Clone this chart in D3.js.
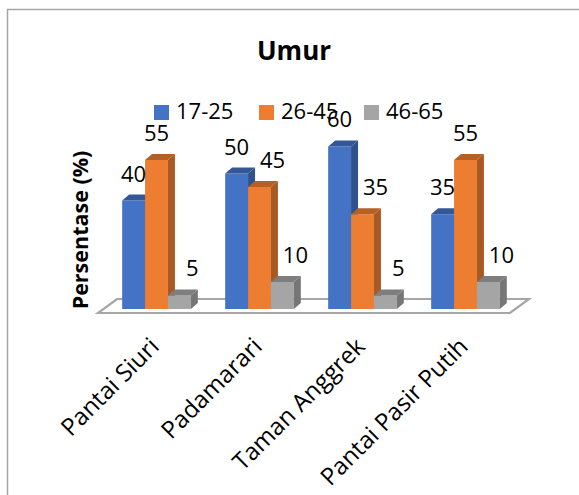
<!DOCTYPE html>
<html>
<head>
<meta charset="utf-8">
<script src="https://cdn.jsdelivr.net/npm/d3@7"></script>
<style>
  html, body { margin: 0; padding: 0; background: #fff; }
  svg { display: block; }
  text { font-family: "Open Sans", "Noto Sans", sans-serif; fill: #000; }
</style>
</head>
<body>
<div id="chart"></div>
<script>
// Respondent age groups per tourist site (%)
const categories = ["Pantai Siuri", "Padamarari", "Taman Anggrek", "Pantai Pasir Putih"];
const seriesNames = ["17-25", "26-45", "46-65"];
const age17_25 = [40, 50, 60, 35];
const age26_45 = [55, 45, 35, 55];
const age46_65 = [5, 10, 5, 10];
const seriesValues = [age17_25, age26_45, age46_65];
const seriesColors = ["#4472C4", "#ED7D31", "#A5A5A5"];
const chartTitle = "Umur";
const yTitle = "Persentase (%)";

const W = 579, H = 495;
const svg = d3.select("#chart").append("svg")
  .attr("width", W).attr("height", H);

// outer chart frame (only left and top edges fall inside the view)
svg.append("rect")
  .attr("x", 7.5).attr("y", 9.5)
  .attr("width", 640).attr("height", 640)
  .attr("fill", "none").attr("stroke", "#a6a6a6").attr("stroke-width", 1.5);

// title
svg.append("text")
  .attr("x", 294).attr("y", 60)
  .attr("text-anchor", "middle")
  .attr("font-size", 26).attr("font-weight", 700)
  .text(chartTitle);

// legend
const legend = svg.append("g").attr("transform", "translate(154,105)");
const legendItem = legend.selectAll("g").data(seriesNames).join("g")
  .attr("transform", (d, i) => `translate(${i * 105},0)`);
legendItem.append("rect")
  .attr("width", 15).attr("height", 15)
  .attr("fill", (d, i) => seriesColors[i]);
legendItem.append("text")
  .attr("x", 22).attr("y", 14)
  .attr("font-size", 22)
  .text(d => d);

// floor (front edge / back edge) of the 3-D plot area
const floorFront = { x0: 98, x1: 510, y: 313 };
const floorDepth = { dx: 19, dy: -14 };
// bars sit slightly behind the front edge of the floor
const barPlane = { dx: 7, dy: -4 };
// depth of each column
const depth = { dx: 7, dy: -6 };

svg.append("path")
  .attr("d", `M${floorFront.x0},${floorFront.y}
              L${floorFront.x1},${floorFront.y}
              L${floorFront.x1 + floorDepth.dx},${floorFront.y + floorDepth.dy}
              L${floorFront.x0 + floorDepth.dx},${floorFront.y + floorDepth.dy}Z`)
  .attr("fill", "#fff").attr("stroke", "#a6a6a6").attr("stroke-width", 2.2)
  .attr("stroke-linejoin", "miter");

const baseY = floorFront.y + barPlane.dy;
const x = d3.scaleBand()
  .domain(categories)
  .range([floorFront.x0 + barPlane.dx, floorFront.x1 + barPlane.dx])
  .paddingInner(1 / 3)
  .paddingOuter(1 / 6);
const xs = d3.scaleBand()
  .domain(seriesNames)
  .range([0, x.bandwidth()]);
const y = d3.scaleLinear().domain([0, 70]).range([baseY, baseY - 70 * 2.71]);

// y-axis title
svg.append("text")
  .attr("transform", `translate(88,230) rotate(-90)`)
  .attr("text-anchor", "middle")
  .attr("font-size", 21.5).attr("font-weight", 700)
  .text(yTitle);

// flatten to bar records
const bars = [];
categories.forEach((c, ci) => {
  seriesNames.forEach((s, si) => {
    bars.push({ cat: c, ci, series: s, si, value: seriesValues[si][ci] });
  });
});

const gBars = svg.append("g");
bars.forEach(b => {
  const x0 = x(b.cat) + xs(b.series);
  const w = xs.bandwidth();
  const yTop = y(b.value), yBot = y(0);
  const base = d3.color(seriesColors[b.si]);
  const g = gBars.append("g");
  // front face
  g.append("path")
    .attr("d", `M${x0},${yBot}L${x0 + w},${yBot}L${x0 + w},${yTop}L${x0},${yTop}Z`)
    .attr("fill", base.formatHex());
  // right side face
  g.append("path")
    .attr("d", `M${x0 + w},${yBot}L${x0 + w + depth.dx},${yBot + depth.dy}
                L${x0 + w + depth.dx},${yTop + depth.dy}L${x0 + w},${yTop}Z`)
    .attr("fill", base.darker(0.95).formatHex());
  // top face
  g.append("path")
    .attr("d", `M${x0},${yTop}L${x0 + w},${yTop}L${x0 + w + depth.dx},${yTop + depth.dy}
                L${x0 + depth.dx},${yTop + depth.dy}Z`)
    .attr("fill", base.darker(0.75).formatHex());
});

// value labels; a label moves right when the bar to its left is taller
const gLabels = svg.append("g");
bars.forEach(b => {
  const cx = x(b.cat) + xs(b.series) + xs.bandwidth() / 2;
  const prev = b.si > 0 ? seriesValues[b.si - 1][b.ci] : -Infinity;
  const nudge = b.value < prev ? 13 : 0;
  gLabels.append("text")
    .attr("x", cx + nudge)
    .attr("y", y(b.value) - 19)
    .attr("text-anchor", "middle")
    .attr("font-size", 22)
    .text(b.value);
});

// category labels, rotated 45 degrees
svg.append("g").selectAll("text").data(categories).join("text")
  .attr("transform", d => `translate(${x(d) + x.bandwidth() / 2 + 4},348) rotate(-45)`)
  .attr("text-anchor", "end")
  .attr("font-size", 24)
  .text(d => d);
</script>
</body>
</html>
